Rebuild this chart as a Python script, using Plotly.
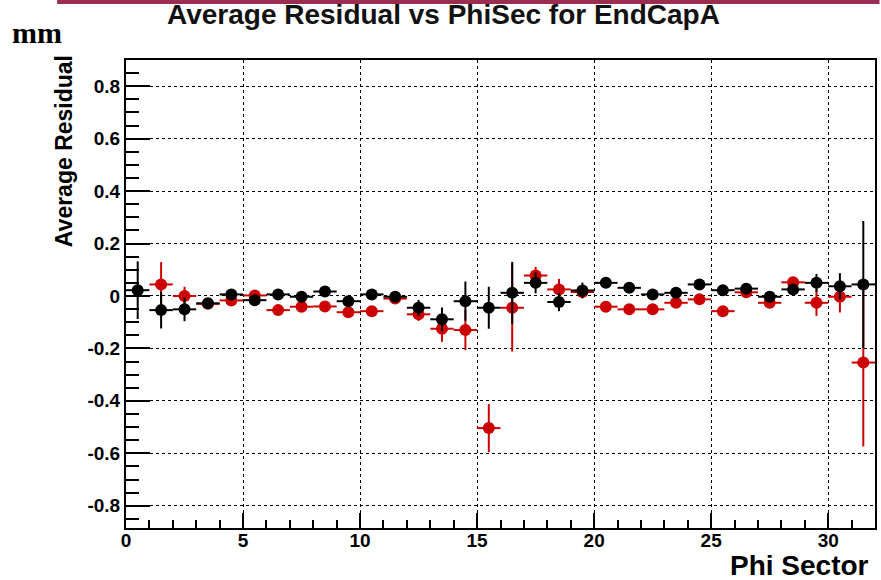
import plotly.graph_objects as go

sectors = [0.5, 1.5, 2.5, 3.5, 4.5, 5.5, 6.5, 7.5, 8.5, 9.5, 10.5, 11.5, 12.5, 13.5, 14.5, 15.5,
           16.5, 17.5, 18.5, 19.5, 20.5, 21.5, 22.5, 23.5, 24.5, 25.5, 26.5, 27.5, 28.5, 29.5, 30.5, 31.5]
bin_half_width = [0.5] * 32

black_vals = [0.022, -0.054, -0.051, -0.028, 0.006, -0.016, 0.006, -0.003, 0.017, -0.020, 0.006, -0.003,
              -0.045, -0.089, -0.020, -0.045, 0.012, 0.050, -0.023, 0.021, 0.050, 0.031, 0.006, 0.012,
              0.044, 0.022, 0.028, -0.003, 0.025, 0.050, 0.037, 0.044]
black_errs = [0.110, 0.070, 0.045, 0.012, 0.012, 0.012, 0.012, 0.012, 0.012, 0.015, 0.012, 0.012,
              0.030, 0.045, 0.075, 0.080, 0.118, 0.040, 0.035, 0.030, 0.015, 0.015, 0.012, 0.015,
              0.015, 0.012, 0.015, 0.020, 0.015, 0.034, 0.050, 0.242]

red_vals = [None, 0.044, 0.000, -0.030, -0.017, 0.002, -0.054, -0.041, -0.040, -0.062, -0.058, -0.010,
            -0.070, -0.125, -0.130, -0.504, -0.045, 0.078, 0.025, 0.015, -0.041, -0.051, -0.051, -0.026,
            -0.013, -0.058, 0.014, -0.026, 0.052, -0.026, -0.003, -0.254]
red_errs = [0.0, 0.085, 0.035, 0.010, 0.012, 0.012, 0.012, 0.012, 0.012, 0.012, 0.012, 0.012,
            0.025, 0.050, 0.076, 0.092, 0.167, 0.033, 0.040, 0.012, 0.015, 0.012, 0.012, 0.015,
            0.015, 0.012, 0.015, 0.015, 0.020, 0.050, 0.060, 0.320]

y_tick_vals = [-0.8, -0.6, -0.4, -0.2, 0, 0.2, 0.4, 0.6, 0.8]
y_tick_text = ["-0.8", "-0.6", "-0.4", "-0.2", "0", "0.2", "0.4", "0.6", "0.8"]
x_tick_vals = [0, 5, 10, 15, 20, 25, 30]
x_tick_text = ["0", "5", "10", "15", "20", "25", "30"]

RED = "#cc0000"
BLACK = "#000000"

fig = go.Figure()
for vals, errs, col in [(red_vals, red_errs, RED), (black_vals, black_errs, BLACK)]:
    fig.add_trace(go.Scatter(
        x=sectors, y=vals, mode="markers",
        marker=dict(symbol="circle", size=12, color=col, line=dict(width=0)),
        error_x=dict(type="data", array=bin_half_width, color=col, thickness=2, width=0),
        error_y=dict(type="data", array=errs, color=col, thickness=2, width=0),
        showlegend=False, cliponaxis=True, hoverinfo="skip",
    ))

tickfont = dict(family="Liberation Sans", size=19, color="black", weight="bold")

fig.update_layout(
    width=881, height=580,
    margin=dict(l=126, r=4, t=60, b=52),
    paper_bgcolor="white", plot_bgcolor="white",
    xaxis=dict(
        range=[0, 32], showline=True, linecolor="black", linewidth=2, mirror=True,
        ticks="inside", ticklen=15, tickwidth=2, tickcolor="black",
        tickvals=x_tick_vals, ticktext=x_tick_text, tickfont=tickfont,
        ticklabelstandoff=-6,
        showgrid=True, gridcolor="black", griddash="dot", gridwidth=1,
        zeroline=False,
        minor=dict(ticks="inside", ticklen=8, tickwidth=2, tickcolor="black", dtick=1, showgrid=False),
    ),
    yaxis=dict(
        range=[-0.885, 0.9], showline=True, linecolor="black", linewidth=2, mirror=True,
        ticks="inside", ticklen=24, tickwidth=2, tickcolor="black",
        tickvals=y_tick_vals, ticktext=y_tick_text, tickfont=tickfont,
        showgrid=True, gridcolor="black", griddash="dot", gridwidth=1,
        zeroline=False,
        minor=dict(ticks="inside", ticklen=13, tickwidth=2, tickcolor="black", dtick=0.05, showgrid=False),
    ),
    shapes=[dict(type="rect", xref="paper", yref="paper",
                 x0=-0.0919, x1=1.006, y0=1.1197, y1=1.13,
                 fillcolor="#9b2d50", line=dict(width=0), layer="above")],
    annotations=[
        dict(text="Average Residual vs PhiSec for EndCapA", xref="paper", yref="paper",
             x=(444 - 126) / 751, y=(528 - 15) / 468, xanchor="center", yanchor="middle",
             showarrow=False, font=dict(family="Liberation Sans", size=28, color="#111111", weight="bold")),
        dict(text="mm", xref="paper", yref="paper",
             x=(10 - 126) / 751, y=(528 - 33) / 468, xanchor="left", yanchor="middle",
             showarrow=False, font=dict(family="Liberation Serif", size=30, color="black", weight="bold")),
        dict(text="Average Residual", xref="paper", yref="paper", textangle=-90,
             x=(64 - 126) / 751, y=(528 - 53) / 468, xanchor="center", yanchor="top",
             showarrow=False, font=dict(family="Liberation Sans", size=23, color="black", weight="bold")),
        dict(text="Phi Sector", xref="paper", yref="paper",
             x=(873 - 126) / 751, y=(528 - 565) / 468, xanchor="right", yanchor="middle",
             showarrow=False, font=dict(family="Liberation Sans", size=28, color="black", weight="bold")),
    ],
)

fig.write_html("out.html", config={"displayModeBar": False},
               post_script="document.body.style.margin='0';")
